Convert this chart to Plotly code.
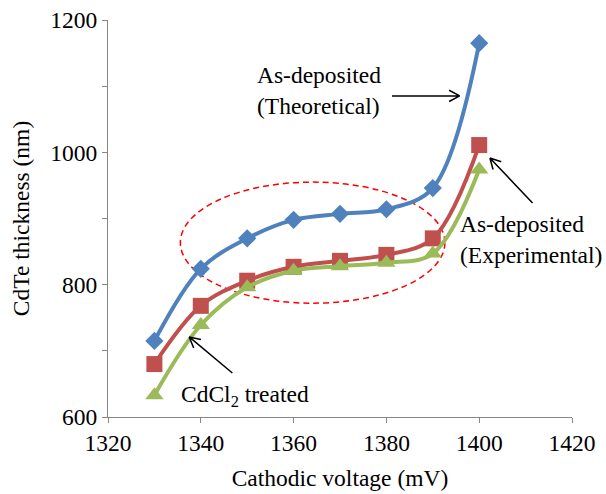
import math
import plotly.graph_objects as go

# Cathodic deposition voltage (mV)
voltage = [1330, 1340, 1350, 1360, 1370, 1380, 1390, 1400]

# CdTe film thickness (nm)
theoretical = [715, 824, 870, 898, 907, 914, 946, 1165]
experimental = [680, 768, 806, 827, 836, 845, 870, 1011]
cdcl2_treated = [633, 739, 796, 821, 828, 833, 847, 974]

x_ticks = [1320, 1340, 1360, 1380, 1400, 1420]
y_ticks = [600, 800, 1000, 1200]

BLUE = "#4F81BD"
RED = "#C0504D"
GREEN = "#9BBB59"
AXIS = "#868686"
FONT = "Liberation Serif"

WIDTH, HEIGHT = 606, 494
MARGIN = dict(l=108, r=34, t=20, b=77)
X_RANGE = [1320, 1420]
Y_RANGE = [600, 1200]

fig = go.Figure()

series = [
    ("As-deposited (Theoretical)", theoretical, BLUE, "diamond", 14),
    ("As-deposited (Experimental)", experimental, RED, "square", 16),
    ("CdCl2 treated", cdcl2_treated, GREEN, "triangle-up", 16),
]
for name, vals, color, symbol, size in series:
    fig.add_trace(go.Scatter(
        x=voltage, y=vals, name=name,
        mode="lines+markers",
        line=dict(color=color, width=4, shape="spline", smoothing=1.0),
        marker=dict(symbol=symbol, size=size, color=color, line=dict(width=0)),
        showlegend=False,
    ))

# Dashed ellipse around the plateau region
fig.add_shape(
    type="circle", xref="x", yref="y",
    x0=1335.6, x1=1392.6, y0=772, y1=955,
    line=dict(color="#FF0000", width=1.5, dash="6px,4px"),
    layer="below",
)

# Pixels per data unit, used to keep arrowheads undistorted
px_x = (WIDTH - MARGIN["l"] - MARGIN["r"]) / (X_RANGE[1] - X_RANGE[0])
px_y = (HEIGHT - MARGIN["t"] - MARGIN["b"]) / (Y_RANGE[1] - Y_RANGE[0])


def arrow(tail, head, head_len=12, half_angle=28):
    """Straight pointer line with an open V head, in data coordinates."""
    dx = (head[0] - tail[0]) * px_x
    dy = (head[1] - tail[1]) * px_y
    ang = math.atan2(dy, dx)
    path = f"M{tail[0]},{tail[1]} L{head[0]},{head[1]}"
    for s in (-1, 1):
        a = ang + math.pi + s * math.radians(half_angle)
        ex = head[0] + head_len * math.cos(a) / px_x
        ey = head[1] + head_len * math.sin(a) / px_y
        path += f" M{head[0]},{head[1]} L{ex},{ey}"
    fig.add_shape(type="path", xref="x", yref="y", path=path,
                  line=dict(color="black", width=1.5))


label_font = dict(family=FONT, size=23.5, color="black")

fig.add_annotation(
    x=1351.6, y=1093, xref="x", yref="y", xanchor="left", yanchor="middle",
    text="As-deposited<br>(Theoretical)", showarrow=False, align="left",
    font=label_font,
)
arrow((1381.2, 1085.3), (1395.8, 1085.3))

fig.add_annotation(
    x=1395.4, y=869, xref="x", yref="y", xanchor="left", yanchor="middle",
    text="As-deposited<br>(Experimental)", showarrow=False, align="left",
    font=label_font,
)
arrow((1411.5, 923.5), (1402.3, 991.5))

fig.add_annotation(
    x=1335.2, y=631, xref="x", yref="y", xanchor="left", yanchor="middle",
    text="CdCl<sub>2</sub> treated", showarrow=False, align="left",
    font=label_font,
)
arrow((1346.8, 666.5), (1337.5, 721))

tick_font = dict(family=FONT, size=23.5, color="black")
title_font = dict(family=FONT, size=23.5, color="black")

fig.update_xaxes(
    range=X_RANGE, tickvals=x_ticks, ticktext=[str(v) for v in x_ticks],
    ticks="outside", ticklen=5, tickcolor=AXIS, tickwidth=1,
    showline=True, linecolor=AXIS, linewidth=1, showgrid=False, zeroline=False,
    tickfont=tick_font, automargin=False,
    title=dict(text="Cathodic voltage (mV)", font=title_font, standoff=14),
)
fig.update_yaxes(
    range=Y_RANGE, tickvals=y_ticks, ticktext=[str(v) for v in y_ticks],
    ticks="outside", ticklen=5, tickcolor=AXIS, tickwidth=1,
    minor=dict(dtick=100, ticks="outside", ticklen=5, tickcolor=AXIS, tickwidth=1, showgrid=False),
    showline=True, linecolor=AXIS, linewidth=1, showgrid=False, zeroline=False,
    tickfont=tick_font, automargin=False,
    title=dict(text="CdTe thickness (nm)", font=title_font, standoff=14),
)

fig.update_layout(
    width=WIDTH, height=HEIGHT,
    margin=MARGIN,
    plot_bgcolor="white", paper_bgcolor="white",
    font=dict(family=FONT),
)

fig.write_html("out.html")
